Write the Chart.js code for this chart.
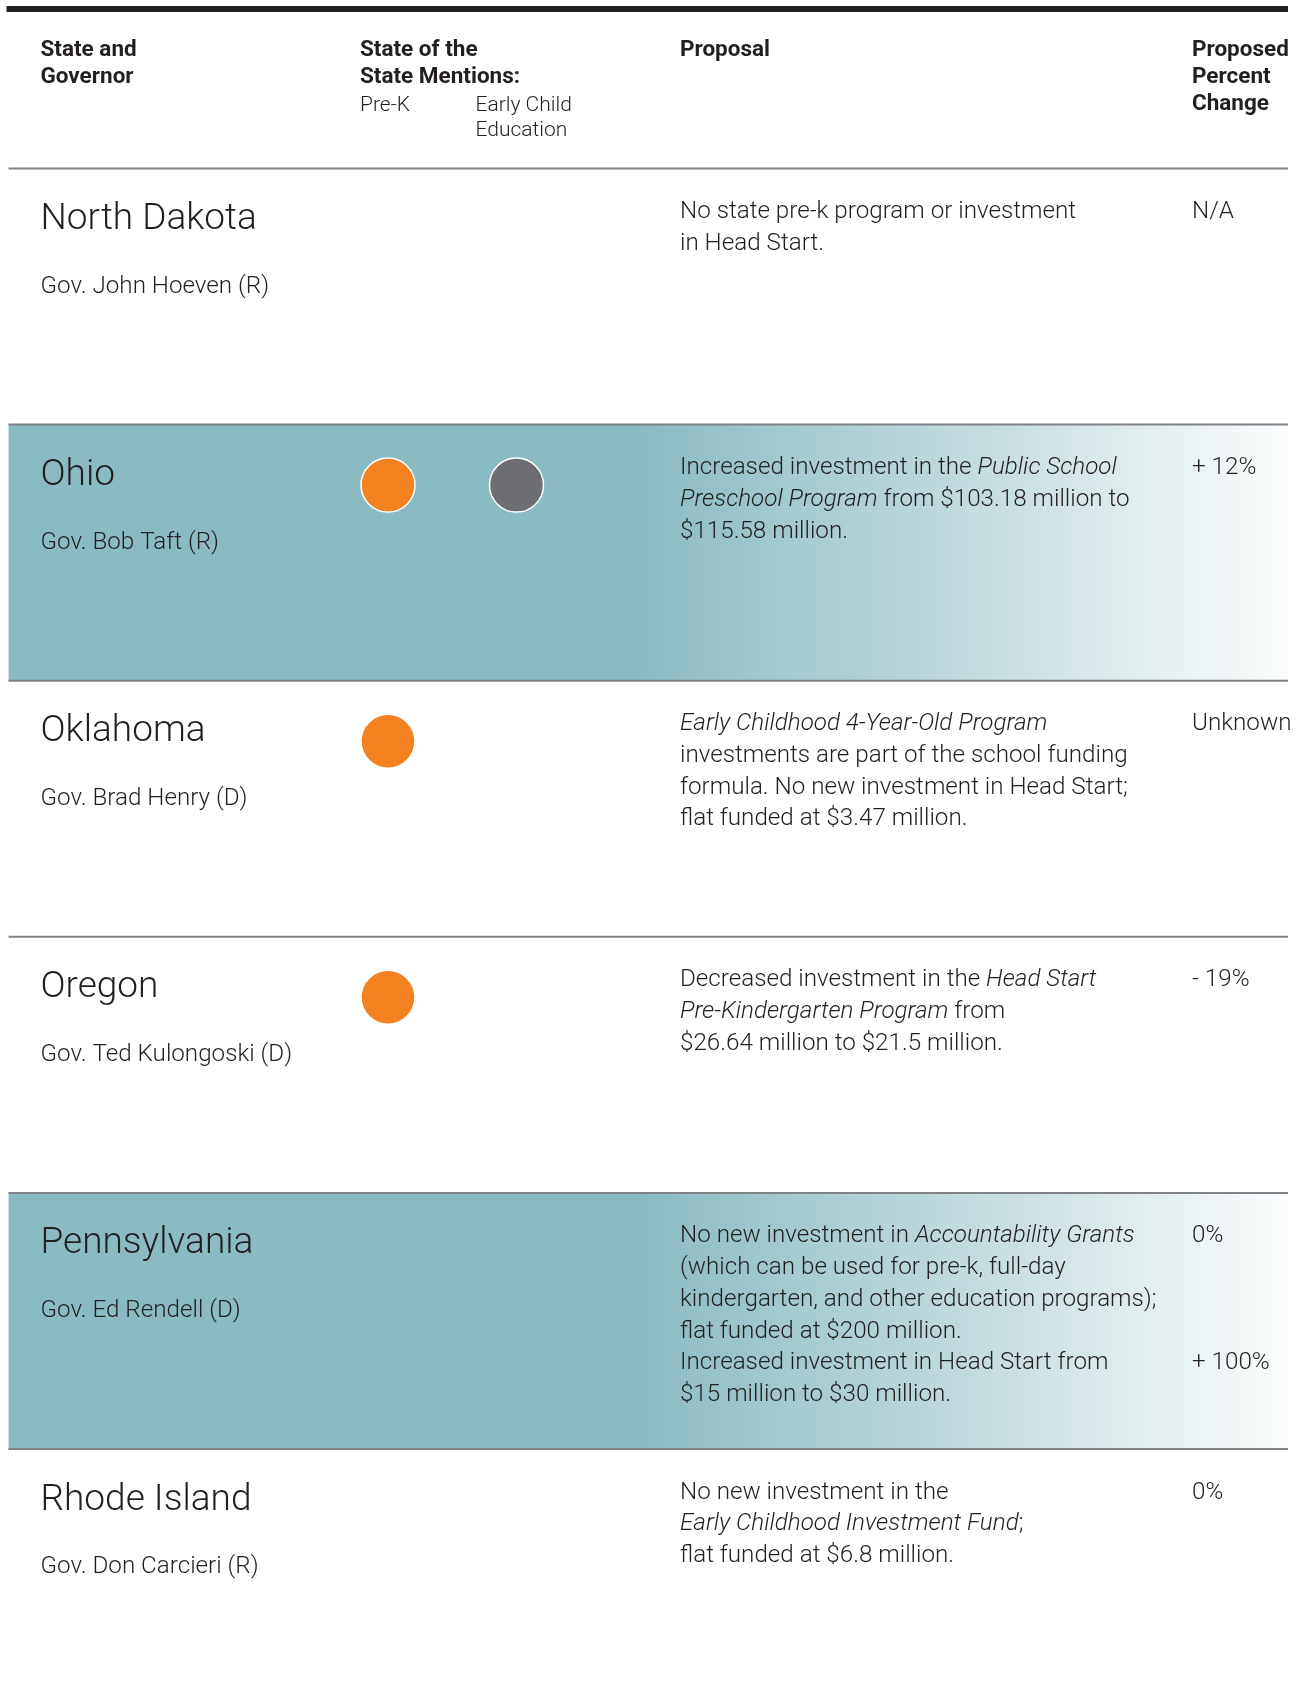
<!DOCTYPE html>
<html>
<head>
<meta charset="utf-8">
<title>State of the State Mentions: Pre-K and Early Child Education</title>
<script src="https://cdn.jsdelivr.net/npm/chart.js@4.4.0/dist/chart.umd.min.js"></script>
<style>
  html, body { margin: 0; padding: 0; background: #fff; }
  #wrap { width: 1302px; height: 1694px; }
</style>
</head>
<body>
<div id="wrap"><canvas id="stateChart" width="1302" height="1694"></canvas></div>
<script>
// ---- data ----
const states = ['North Dakota', 'Ohio', 'Oklahoma', 'Oregon', 'Pennsylvania', 'Rhode Island'];
const governors = ['Gov. John Hoeven (R)', 'Gov. Bob Taft (R)', 'Gov. Brad Henry (D)',
  'Gov. Ted Kulongoski (D)', 'Gov. Ed Rendell (D)', 'Gov. Don Carcieri (R)'];
const prekMentions = [false, true, true, true, false, false];
const eceMentions = [false, true, false, false, false, false];
// *...* marks italic runs
const proposals = [
  ['No state pre-k program or investment', 'in Head Start.'],
  ['Increased investment in the *Public School*', '*Preschool Program* from $103.18 million to', '$115.58 million.'],
  ['*Early Childhood 4-Year-Old Program*', 'investments are part of the school funding',
    'formula. No new investment in Head Start;', 'flat funded at $3.47 million.'],
  ['Decreased investment in the *Head Start*', '*Pre-Kindergarten Program* from', '$26.64 million to $21.5 million.'],
  ['No new investment in *Accountability Grants*', '(which can be used for pre-k, full-day',
    'kindergarten, and other education programs);', 'flat funded at $200 million.',
    'Increased investment in Head Start from', '$15 million to $30 million.'],
  ['No new investment in the', '*Early Childhood Investment Fund*;', 'flat funded at $6.8 million.']
];
// one entry per proposal line, '' where nothing is shown
const percentChanges = [['N/A'], ['+ 12%'], ['Unknown'], ['- 19%'], ['0%', '', '', '', '+ 100%'], ['0%']];
const columnHeaders = [['State and', 'Governor'], ['State of the', 'State Mentions:'], ['Proposal'], ['Proposed', 'Percent', 'Change']];
const mentionLabels = [['Pre-K'], ['Early Child', 'Education']];

// ---- layout ----
const W = 1302, H = 1694;
const FONT = 'Roboto, "Liberation Sans", Arial, sans-serif';
const INK = '#231f20';
const PREK_X = 388, ECE_X = 516.5;
const ROW_TOP0 = 168.5, ROW_H = 256.1, DOT_DY = 60.5;
const COL_X = [40.5, 360, 680, 1192];
const SUB_X = [360, 475.5];
const SHADED_ROWS = [1, 4];
const LEFT = 8.5, RIGHT = 1288;
const BODY_SIZE = 24.2;

const xUnit = ECE_X - PREK_X;
const xMin = -PREK_X / xUnit;
const yMin = -(ROW_TOP0 + DOT_DY) / ROW_H;

function drawRich(ctx, str, x, y, size) {
  let cx = x;
  str.split('*').forEach((part, k) => {
    if (!part) return;
    ctx.font = (k % 2 ? 'italic ' : '') + '300 ' + size + 'px ' + FONT;
    ctx.fillText(part, cx, y);
    cx += ctx.measureText(part).width;
  });
}

const tablePlugin = {
  id: 'tableLayout',
  beforeDatasetsDraw(chart) {
    const ctx = chart.ctx;
    const yScale = chart.scales.y;
    const rowTop = i => yScale.getPixelForValue(i) - DOT_DY;
    ctx.save();
    ctx.fillStyle = '#fff';
    ctx.fillRect(0, 0, W, H);

    // shaded rows
    SHADED_ROWS.forEach(i => {
      const g = ctx.createLinearGradient(640, 0, RIGHT, 0);
      g.addColorStop(0, '#8bbbc2');
      g.addColorStop(0.5, '#c2dade');
      g.addColorStop(1, '#fbfdfd');
      ctx.fillStyle = g;
      ctx.fillRect(LEFT, rowTop(i), RIGHT - LEFT, ROW_H);
    });

    // rules
    ctx.fillStyle = INK;
    ctx.fillRect(LEFT - 2, 6, RIGHT - LEFT + 2, 6);
    ctx.strokeStyle = '#808285';
    ctx.lineWidth = 2;
    for (let i = 0; i < states.length; i++) {
      const y = rowTop(i);
      ctx.beginPath();
      ctx.moveTo(LEFT, y);
      ctx.lineTo(RIGHT, y);
      ctx.stroke();
    }

    // headers
    ctx.fillStyle = INK;
    ctx.textBaseline = 'alphabetic';
    ctx.textAlign = 'left';
    ctx.font = 'bold 22.5px ' + FONT;
    columnHeaders.forEach((lines, c) => {
      lines.forEach((t, k) => ctx.fillText(t, COL_X[c], 56 + k * 27));
    });
    ctx.font = '300 21px ' + FONT;
    mentionLabels.forEach((lines, c) => {
      lines.forEach((t, k) => ctx.fillText(t, SUB_X[c], 110.5 + k * 25.5));
    });

    // rows
    states.forEach((s, i) => {
      const top = rowTop(i);
      ctx.font = '300 37px ' + FONT;
      ctx.fillText(s, COL_X[0], top + 60.5);
      ctx.font = '300 ' + BODY_SIZE + 'px ' + FONT;
      ctx.fillText(governors[i], COL_X[0], top + 124);
      proposals[i].forEach((line, k) => drawRich(ctx, line, COL_X[2], top + 49.5 + k * 31.7, BODY_SIZE));
      ctx.font = '300 ' + BODY_SIZE + 'px ' + FONT;
      percentChanges[i].forEach((p, k) => {
        if (p) ctx.fillText(p, COL_X[3], top + 49.5 + k * 31.7);
      });
    });
    ctx.restore();
  }
};

new Chart(document.getElementById('stateChart').getContext('2d'), {
  type: 'scatter',
  data: {
    datasets: [
      {
        label: 'Pre-K',
        data: states.map((s, i) => prekMentions[i] ? { x: 0, y: i } : null).filter(Boolean),
        backgroundColor: '#f58220',
        borderColor: '#ffffff',
        borderWidth: 1.5,
        pointRadius: 27,
        pointHoverRadius: 27
      },
      {
        label: 'Early Child Education',
        data: states.map((s, i) => eceMentions[i] ? { x: 1, y: i } : null).filter(Boolean),
        backgroundColor: '#6d6e71',
        borderColor: '#ffffff',
        borderWidth: 1.5,
        pointRadius: 27,
        pointHoverRadius: 27
      }
    ]
  },
  options: {
    responsive: false,
    animation: false,
    layout: { padding: 0, autoPadding: false },
    events: [],
    scales: {
      x: { type: 'linear', display: false, min: xMin, max: xMin + W / xUnit },
      y: { type: 'linear', display: false, reverse: true, min: yMin, max: yMin + H / ROW_H }
    },
    plugins: {
      legend: { display: false },
      tooltip: { enabled: false }
    }
  },
  plugins: [tablePlugin]
});
</script>
</body>
</html>
